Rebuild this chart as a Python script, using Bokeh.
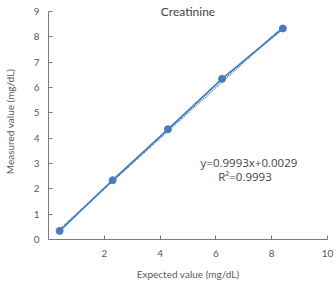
from bokeh.plotting import figure
from bokeh.models import Label, FixedTicker
from bokeh.embed import file_html
from bokeh.resources import INLINE

expected = [0.40, 2.30, 4.28, 6.22, 8.40]
measured = [0.34, 2.34, 4.35, 6.34, 8.33]
slope = 0.9993
intercept = 0.0029
x_ticks = [2, 4, 6, 8, 10]
y_ticks = [0, 1, 2, 3, 4, 5, 6, 7, 8, 9]
title_text = "Creatinine"
eq_text = "y=0.9993x+0.0029"
r2_text = "R\u00b2=0.9993"

FONT = "Lato"
EQ_FONT = "Open Sans"
BLUE = "#4a7cbb"
AX = "#7a7a7a"
TXT = "#5a5a5a"

p = figure(width=336, height=282, x_range=(0, 10), y_range=(0, 9.316),
           output_backend="svg", toolbar_location=None,
           min_border_left=44, min_border_right=9, min_border_top=3, min_border_bottom=43)
p.outline_line_color = None
p.xgrid.visible = False
p.ygrid.visible = False
p.background_fill_color = "white"
p.border_fill_color = "white"

for ax in (p.xaxis[0], p.yaxis[0]):
    ax.axis_line_color = AX
    ax.major_tick_line_color = AX
    ax.major_tick_in = 4
    ax.major_tick_out = 0
    ax.minor_tick_line_color = None
    ax.major_label_text_font = FONT
    ax.major_label_text_font_size = "10px"
    ax.major_label_text_color = TXT
    ax.axis_label_text_font = FONT
    ax.axis_label_text_font_size = "10px"
    ax.axis_label_text_font_style = "normal"
    ax.axis_label_text_color = TXT

p.yaxis.bounds = (0, 9)
p.xaxis.ticker = FixedTicker(ticks=x_ticks)
p.yaxis.ticker = FixedTicker(ticks=y_ticks)
p.xaxis.axis_label = "Expected value (mg/dL)"
p.yaxis.axis_label = "Measured value (mg/dL)"
p.xaxis.major_label_standoff = 10
p.yaxis.major_label_standoff = 9
p.xaxis.axis_label_standoff = 8
p.yaxis.axis_label_standoff = 15

# trend line from the chart's own equation
tx = [min(expected), max(expected)]
ty = [slope * v + intercept for v in tx]
p.line(tx, ty, line_color=BLUE, line_width=1.5, line_dash="1 1")
p.line(expected, measured, line_color=BLUE, line_width=1.8)
p.scatter(expected, measured, size=7, fill_color=BLUE, line_color=BLUE)

p.add_layout(Label(x=5.0, y=9.0, text=title_text, text_font=FONT, text_font_size="12px",
                   text_color="#444444", text_align="center", text_baseline="middle"))
p.add_layout(Label(x=5.45, y=3.04, text=eq_text, text_font=EQ_FONT, text_font_size="11.5px",
                   text_color="#444444", text_align="left", text_baseline="middle"))
p.add_layout(Label(x=6.08, y=2.49, text=r2_text, text_font=EQ_FONT, text_font_size="11.5px",
                   text_color="#444444", text_align="left", text_baseline="middle"))

open("out.html", "w").write(file_html(p, INLINE))
